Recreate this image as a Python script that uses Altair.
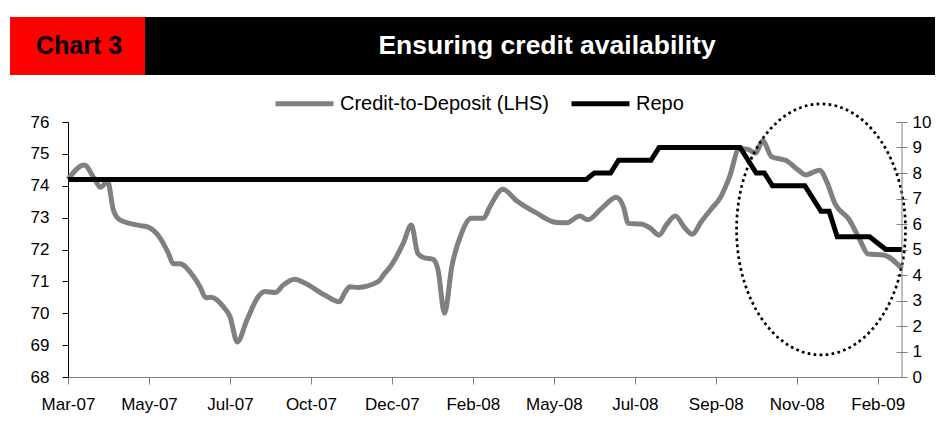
import altair as alt
import pandas as pd

# ---- data -------------------------------------------------------------
# x axis: weekly category index starting Mar-07 (tick label every 10 weeks)
tick_weeks = [0, 10, 20, 30, 40, 50, 60, 70, 80, 90, 100]
tick_labels = ["Mar-07", "May-07", "Jul-07", "Oct-07", "Dec-07", "Feb-08",
               "May-08", "Jul-08", "Sep-08", "Nov-08", "Feb-09"]

# Credit-to-Deposit ratio (LHS, %)
cd_week = [0, 2.0, 3.3, 4.0, 4.9, 5.6, 6.4, 8.9, 9.9, 11.4, 12.4, 13.0, 13.8,
           15.5, 16.3, 17.0, 17.7, 19.2, 20.0, 20.9, 22.1, 23.5, 24.3, 25.6,
           26.6, 28.0, 29.3, 31.7, 33.5, 34.2, 34.8, 35.8, 38.3, 39.1, 39.8,
           41.4, 42.4, 43.2, 43.9, 45.1, 45.7, 46.5, 47.4, 48.6, 49.8, 51.3,
           52.1, 53.7, 55.4, 57.9, 60.3, 61.6, 63.2, 64.2, 65.9, 67.7, 68.6,
           69.2, 70.8, 71.9, 73.0, 73.9, 75.0, 76.2, 77.1, 78.2, 79.5, 80.5,
           81.7, 82.9, 84.0, 84.9, 85.8, 86.9, 88.7, 90.2, 91.1, 92.8, 93.7,
           94.7, 96.5, 97.8, 98.8, 100.7, 103.0]
cd_ratio = [74.2, 74.65, 74.2, 73.95, 74.13, 73.24, 72.93, 72.75, 72.7, 72.35,
            71.88, 71.55, 71.55, 71.15, 70.83, 70.49, 70.5, 70.2, 69.9, 69.1,
            69.79, 70.52, 70.68, 70.65, 70.89, 71.07, 70.94, 70.57, 70.36,
            70.65, 70.83, 70.81, 70.99, 71.25, 71.46, 72.19, 72.77, 71.88,
            71.75, 71.69, 71.36, 70.0, 71.46, 72.51, 72.98, 72.98, 73.34,
            73.89, 73.53, 73.14, 72.85, 72.84, 73.05, 72.93, 73.29, 73.64,
            73.34, 72.82, 72.8, 72.67, 72.45, 72.77, 73.05, 72.67, 72.48,
            72.87, 73.29, 73.6, 74.28, 75.17, 75.14, 75.02, 75.41, 74.91,
            74.79, 74.49, 74.34, 74.49, 74.13, 73.45, 72.93, 72.3, 71.86,
            71.83, 71.4]

# Repo rate (RHS, %)
repo_week = [0, 64, 65, 67, 68, 72, 73, 83, 85, 86, 87, 91, 93, 94, 95, 99, 101, 103]
repo_rate = [7.75, 7.75, 8.0, 8.0, 8.5, 8.5, 9.0, 9.0, 8.0, 8.0, 7.5, 7.5,
             6.5, 6.5, 5.5, 5.5, 5.0, 5.0]

series_names = ["Credit-to-Deposit (LHS)", "Repo"]
series_colors = ["#808080", "#000000"]

# highlight ellipse (centre, in data units)
ellipse_week = [93.0]
ellipse_ratio = [72.63]

chart_tag = "Chart 3"
chart_title = "Ensuring credit availability"

# ---- chart ------------------------------------------------------------
W, H = 834, 255
FONT = "Liberation Sans"

cd_df = pd.DataFrame({"week": cd_week, "value": cd_ratio, "series": series_names[0]})
repo_df = pd.DataFrame({"week": repo_week, "value": repo_rate, "series": series_names[1]})
ell_df = pd.DataFrame({"week": ellipse_week, "value": ellipse_ratio})
one = pd.DataFrame({"k": [0]})

label_expr = "[" + ",".join("'%s'" % t for t in tick_labels) + "][round(datum.value/10)]"
x_enc = alt.X("week:Q", scale=alt.Scale(domain=[0, 103], nice=False, zero=False),
              axis=alt.Axis(values=tick_weeks, labelExpr=label_expr, grid=False, title=None,
                            tickSize=7, domainColor="#808080", tickColor="#808080",
                            labelFontSize=17, labelFont=FONT, labelColor="black",
                            labelPadding=12, labelFlush=False, labelOverlap=False))

color_enc = alt.Color("series:N",
                      scale=alt.Scale(domain=series_names, range=series_colors),
                      legend=alt.Legend(orient="none", legendX=205, legendY=-50,
                                        direction="horizontal", title=None,
                                        symbolType="stroke", symbolSize=3364,
                                        symbolStrokeWidth=5, labelFontSize=20,
                                        labelFont=FONT, labelColor="black",
                                        labelLimit=500,
                                        labelOffset=4, columnPadding=12, padding=0))

y_left = alt.Y("value:Q", scale=alt.Scale(domain=[68, 76], nice=False, zero=False),
               axis=alt.Axis(values=list(range(68, 77)), grid=False, title=None,
                             tickSize=6, labelPadding=13, domainColor="black",
                             tickColor="black", labelFontSize=17, labelFont=FONT,
                             labelColor="black", labelOverlap=False,
                             labelBound=False))

cd_line = alt.Chart(cd_df).mark_line(strokeWidth=5, interpolate="monotone").encode(
    x=x_enc, y=y_left, color=color_enc)

ellipse = alt.Chart(ell_df).mark_point(
    shape="M -0.673 0 A 0.673 1 0 1 1 0.673 0 A 0.673 1 0 1 1 -0.673 0 Z",
    size=63001, filled=False, stroke="black", strokeWidth=2.7,
    strokeDash=[2.7, 3.3], opacity=1).encode(
    x=x_enc, y=y_left)

left_layer = alt.layer(cd_line, ellipse)

repo_line = alt.Chart(repo_df).mark_line(strokeWidth=5).encode(
    x=x_enc,
    y=alt.Y("value:Q", scale=alt.Scale(domain=[0, 10], nice=False, zero=True),
            axis=alt.Axis(orient="right", values=list(range(0, 11)), grid=False,
                          title=None, tickSize=11, offset=-6, domain=False,
                          tickColor="#808080", labelPadding=5, labelFontSize=17,
                          labelFont=FONT, labelColor="black", labelOverlap=False)),
    color=color_enc)

right_domain = alt.Chart(one).mark_rule(color="#808080", strokeWidth=1).encode(
    x=alt.value(W), y=alt.value(0), y2=alt.value(H))

red_box = alt.Chart(one).mark_rect(color="#ff0000").encode(
    x=alt.value(10 - 68), x2=alt.value(145 - 68), y=alt.value(17 - 122), y2=alt.value(75 - 122))
black_box = alt.Chart(one).mark_rect(color="#000000").encode(
    x=alt.value(145 - 68), x2=alt.value(935 - 68), y=alt.value(17 - 122), y2=alt.value(75 - 122))
tag_text = alt.Chart(one).mark_text(font=FONT, fontSize=25, fontWeight="bold", color="black",
                                    align="center", baseline="middle").encode(
    x=alt.value(79 - 68), y=alt.value(46 - 122), text=alt.value(chart_tag))
title_text = alt.Chart(one).mark_text(font=FONT, fontSize=26.5, fontWeight="bold", color="white",
                                      align="center", baseline="middle").encode(
    x=alt.value(547 - 68), y=alt.value(46 - 122), text=alt.value(chart_title))

chart = alt.layer(
    left_layer, repo_line, right_domain, red_box, black_box, tag_text, title_text
).resolve_scale(y="independent").properties(
    width=W, height=H, autosize=alt.AutoSizeParams(type="none"),
    padding={"left": 68, "top": 122, "right": 941 - 68 - W, "bottom": 431 - 122 - H},
    background="white"
).configure_view(stroke=None)

chart.save("out.html", embed_options={"renderer": "svg", "actions": False})
